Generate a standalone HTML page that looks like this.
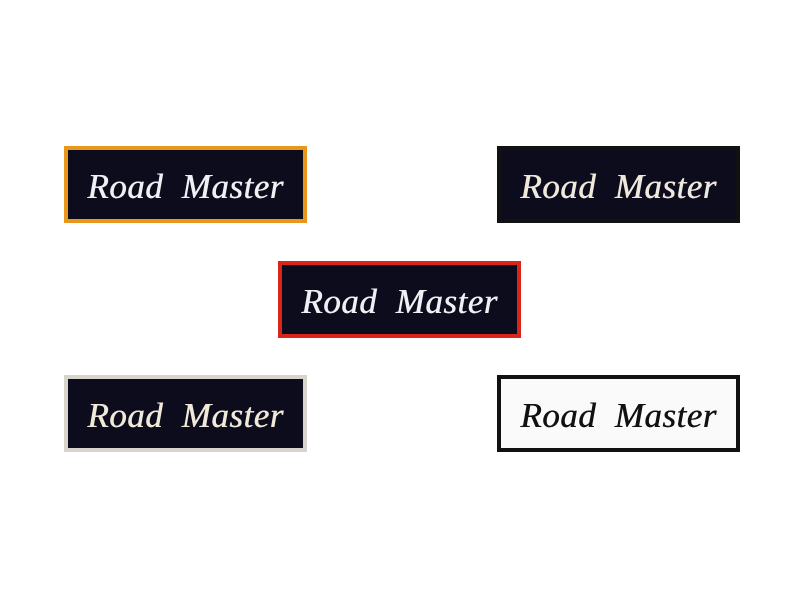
<!DOCTYPE html>
<html><head><style>
body{margin:0;width:800px;height:600px;background:#fff;position:relative;overflow:hidden}
.p{position:absolute;width:243px;height:77px;box-sizing:border-box;border:4px solid;background:#0c0c1c;
font-family:"Liberation Serif",serif;font-style:italic;font-size:35px;color:#eef0f4;padding-top:5px;
display:flex;align-items:center;justify-content:center;white-space:pre;letter-spacing:0.5px;text-shadow:0.5px 0 0 currentColor}
</style></head><body>
<div class="p" style="left:64px;top:146px;border-color:#e8961c">Road  Master</div>
<div class="p" style="left:497px;top:146px;border-color:#111;color:#efe8dc">Road  Master</div>
<div class="p" style="left:278px;top:261px;border-color:#d8261c">Road  Master</div>
<div class="p" style="left:64px;top:375px;border-color:#d8d4cc;color:#f0e8d8">Road  Master</div>
<div class="p" style="left:497px;top:375px;border-color:#111;background:#fafafa;color:#111">Road  Master</div>
</body></html>
